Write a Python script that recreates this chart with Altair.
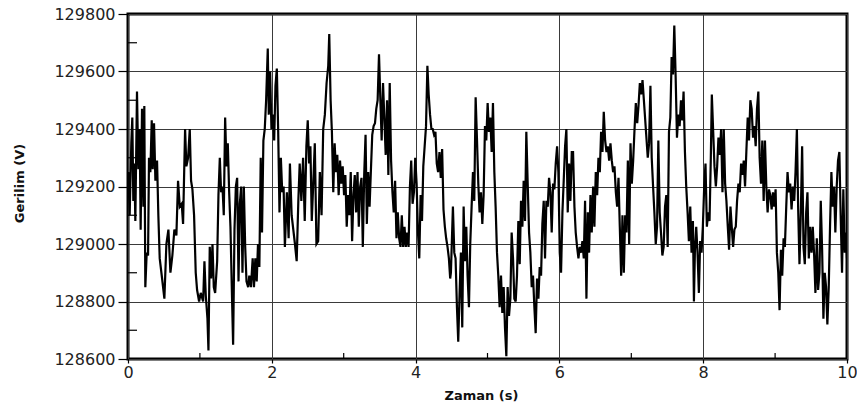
import altair as alt
import pandas as pd

# (time s, voltage V), segment by segment
seg_a = [(0.0,129200),(0.005,129250),(0.023,129100),(0.046,129350),(0.060,129440),(0.074,129150),(0.088,129280),(0.102,129080),
 (0.125,129530),(0.144,129260),(0.162,129400),(0.176,129050),(0.195,129470),(0.214,129130),(0.227,129480),(0.241,128850),
 (0.260,128970),(0.279,128960),(0.292,129300),(0.311,129250),(0.330,129430),(0.344,129260),(0.362,129420),(0.381,129220),
 (0.404,129290),(0.422,129100),(0.441,128950),(0.474,128880),(0.506,128810),(0.534,129000),(0.562,129050),(0.590,128900),
 (0.617,128960),(0.645,129050),(0.673,129030),(0.696,129220),(0.720,129130),(0.747,129140),(0.766,129070),(0.794,129400),
 (0.812,129270),(0.836,129300),(0.859,129400),(0.877,129220),(0.896,129190),(0.919,129100),(0.942,128900),(0.961,128840),
 (0.989,128800),(1.012,128830),(1.045,128800),(1.063,128940),(1.082,128820),(1.105,128740),(1.119,128630),(1.137,128990),
 (1.156,128880),(1.175,129000),(1.193,128850),(1.212,128830),(1.240,128940),(1.258,129170),(1.277,129300),(1.295,129180),
 (1.314,129200),(1.332,129100),(1.351,129440),(1.370,129270),(1.388,129350),(1.407,129180),(1.425,129060),(1.448,128800),
 (1.462,128650),(1.481,129050),(1.500,129200),(1.518,129230),(1.537,128870),(1.555,129140),(1.574,129200),(1.592,128900),
 (1.611,129200),(1.630,128990),(1.648,128870),(1.671,128850)]

seg_b = [(1.687,128890),(1.710,128850),(1.734,128950),(1.752,128850),(1.771,128950),(1.790,128870),(1.808,129000),(1.827,128920),
 (1.846,129300),(1.864,129040),(1.883,129360),(1.902,129400),(1.921,129500),(1.944,129680),(1.958,129450),(1.977,129600),
 (1.995,129400),(2.014,129450),(2.033,129360),(2.051,129550),(2.070,129610),(2.089,129390),(2.107,129110),(2.126,129300),
 (2.145,129180),(2.164,129200),(2.182,128990),(2.210,129180),(2.234,129020),(2.252,129280),(2.276,129100),(2.299,129050),
 (2.322,129000),(2.346,128940),(2.369,129150),(2.388,129280),(2.411,129150),(2.435,129300),(2.458,129080),(2.481,129340),
 (2.500,129430),(2.519,129280),(2.537,129340),(2.556,129080),(2.575,129200),(2.598,129350),(2.621,129000),(2.645,129010),
 (2.668,129250),(2.692,129100),(2.715,129400),(2.738,129450),(2.762,129560),(2.785,129620),(2.799,129730),(2.818,129500),
 (2.836,129390),(2.855,129180),(2.874,129350),(2.893,129250),(2.911,129310),(2.930,129170),(2.949,129290),(2.967,129210),
 (2.986,129270),(3.005,129170),(3.023,129240),(3.042,129060),(3.061,129170),(3.079,129100),(3.098,129250),(3.117,129010),
 (3.136,129170),(3.154,129240),(3.173,129110),(3.192,129250),(3.210,129060),(3.229,129200),(3.248,129230),(3.266,128990),
 (3.285,129240),(3.304,129380),(3.322,129070),(3.341,129250),(3.360,129130),(3.379,129260),(3.397,129380),(3.416,129410),
 (3.435,129420),(3.453,129470),(3.472,129500),(3.491,129660),(3.509,129510),(3.528,129360),(3.547,129560),(3.565,129440),
 (3.584,129310),(3.603,129500),(3.621,129240),(3.640,129560),(3.659,129290),(3.678,129180),(3.696,129110),(3.715,129220),
 (3.734,129020),(3.752,129110),(3.771,129020),(3.790,128990),(3.808,129100),(3.827,128990),(3.846,129060),(3.864,128990),
 (3.883,129040),(3.902,128990),(3.921,129200),(3.939,129290),(3.958,129140),(3.977,129180),(3.995,129300),(4.014,129210),
 (4.033,129040),(4.051,128950),(4.070,129170),(4.089,129080),(4.107,129270),(4.126,129340),(4.145,129410),(4.164,129620),
 (4.182,129520),(4.201,129450),(4.220,129400),(4.238,129400),(4.257,129380),(4.276,129390),(4.294,129280),(4.313,129250),
 (4.332,129320),(4.350,129230),(4.369,129330),(4.388,129120),(4.407,129060),(4.425,129020),(4.444,128990),(4.463,128950),
 (4.481,128880)]

seg_c = [(4.491,128900),(4.519,129130),(4.538,128970),(4.556,128950),(4.575,128780),(4.593,128660),(4.612,128830),(4.630,128970),
 (4.649,128710),(4.668,129130),(4.686,128940),(4.705,129060),(4.723,128890),(4.742,128780),(4.760,129000),(4.779,129130),
 (4.798,129250),(4.816,129150),(4.835,129510),(4.853,129370),(4.872,129210),(4.890,129110),(4.909,129180),(4.928,129070),
 (4.946,129170),(4.965,129410),(4.983,129360),(5.002,129490),(5.020,129390),(5.039,129440),(5.058,129320),(5.076,129490),
 (5.095,129250),(5.113,129130),(5.132,128970),(5.150,128890),(5.169,128780),(5.188,128890),(5.206,128760),(5.225,128850),
 (5.243,128710),(5.262,128610),(5.280,128850),(5.299,128750),(5.318,128810),(5.336,129040),(5.355,128950),(5.373,128810),
 (5.392,128800),(5.410,128890),(5.429,129080),(5.448,128930),(5.466,129150),(5.485,129060),(5.503,129220),(5.522,129080),
 (5.540,129390),(5.559,129210),(5.578,129040),(5.596,128970),(5.615,128850),(5.633,128890),(5.652,128780),(5.670,128690),
 (5.689,128880),(5.708,128810),(5.726,128920),(5.745,128890),(5.763,129070),(5.782,129150),(5.800,128950),(5.819,129150),
 (5.838,129130),(5.856,129230),(5.875,129180),(5.893,129040),(5.912,129210),(5.930,129190),(5.949,129280),(5.968,129340),
 (5.986,129250),(6.005,128970),(6.023,128900),(6.042,129110),(6.060,129220),(6.079,129340),(6.097,129400),(6.116,129110),
 (6.135,129280),(6.153,129150),(6.172,129320),(6.190,129320),(6.209,129130),(6.227,129040),(6.246,128990),(6.265,128950),
 (6.283,128990),(6.302,128970),(6.320,129010),(6.339,128950),(6.357,129150),(6.376,128810),(6.395,129110),(6.413,128970),
 (6.432,129170),(6.450,129040),(6.469,129200),(6.487,129060),(6.506,129250),(6.525,129170),(6.543,129300),(6.562,129250),
 (6.580,129390),(6.599,129320),(6.617,129460),(6.636,129360),(6.655,129320),(6.673,129340),(6.692,129290),(6.710,129350),
 (6.729,129290),(6.747,129250),(6.766,129270),(6.785,129180),(6.803,129130),(6.822,129230),(6.840,129060),(6.859,128890),
 (6.877,129100),(6.896,128900),(6.915,129100),(6.933,129040),(6.952,129290),(6.970,129000),(6.989,129350),(7.007,129210),
 (7.026,129290),(7.045,129400),(7.063,129490),(7.082,129420),(7.100,129480),(7.119,129560),(7.137,129520),(7.156,129570),
 (7.175,129500)]

seg_d = [(7.229,129300),(7.247,129350),(7.266,129550),(7.284,129300),(7.303,129200),(7.321,129110),(7.340,129000),(7.358,129060),
 (7.376,129360),(7.395,129110),(7.413,129040),(7.432,128960),(7.450,128990),(7.469,129130),(7.487,129170),(7.506,128990),
 (7.524,129390),(7.543,129440),(7.561,129650),(7.580,129590),(7.598,129760),(7.617,129580),(7.635,129370),(7.654,129450),
 (7.672,129410),(7.691,129500),(7.709,129430),(7.727,129530),(7.746,129320),(7.764,129200),(7.783,129110),(7.801,129010),
 (7.820,129130),(7.838,128970),(7.857,129080),(7.871,128800),(7.885,128980),(7.903,129060),(7.921,128970),(7.940,128830),
 (7.958,129010),(7.977,128970),(7.995,129060),(8.014,129200),(8.032,129280),(8.051,129060),(8.069,129110),(8.088,129080),
 (8.106,129300),(8.120,129520),(8.139,129390),(8.157,129270),(8.176,129200),(8.194,129270),(8.212,129370),(8.231,129310),
 (8.249,129400),(8.268,129180),(8.286,129400),(8.305,129210),(8.323,129150),(8.342,129060),(8.360,128980),(8.379,129130),
 (8.397,129060),(8.416,128990),(8.434,129050),(8.453,129060),(8.471,129150),(8.490,129210),(8.508,129180),(8.527,129280),
 (8.545,129240),(8.564,129290),(8.582,129200),(8.600,129320),(8.619,129440),(8.637,129360),(8.656,129500),(8.674,129470),
 (8.693,129370),(8.711,129410),(8.730,129340),(8.748,129470),(8.767,129530),(8.785,129300),(8.804,129210),(8.822,129360),
 (8.841,129150),(8.859,129360),(8.878,129200),(8.896,129110),(8.915,129190),(8.933,129170),(8.952,129120),(8.970,129180),
 (8.988,129130),(9.007,129190),(9.025,128970),(9.044,128900),(9.062,128770),(9.081,128980),(9.099,128890),(9.118,129020),
 (9.136,128990),(9.155,129130),(9.173,129250),(9.192,129180),(9.210,129210),(9.229,129120),(9.247,129200),(9.266,129150),
 (9.284,129250),(9.303,129400),(9.321,129120),(9.339,128930),(9.358,129110),(9.376,129340),(9.395,128990),(9.413,128930),
 (9.432,129110),(9.450,129180),(9.469,128950),(9.487,129060),(9.506,128970),(9.524,129060),(9.543,128960),(9.561,128830),
 (9.580,129020),(9.598,128840),(9.617,128900),(9.635,129150),(9.654,128980),(9.672,128740),(9.691,128900),(9.709,128850),
 (9.727,128720),(9.746,128850),(9.764,129060),(9.783,129250),(9.801,129130),(9.820,129200),(9.838,129040),(9.857,129200),
 (9.875,129290),(9.894,129320),(9.912,129100),(9.931,128900),(9.949,129190),(9.968,128970),(9.986,129040),(10.0,128950)]

x_major = [0, 2, 4, 6, 8, 10]
x_minor = [1, 3, 5, 7, 9]
y_major = [128600, 128800, 129000, 129200, 129400, 129600, 129800]
y_minor = [128700, 128900, 129100, 129300, 129500, 129700]

df = pd.DataFrame(seg_a + seg_b + seg_c + seg_d, columns=["t", "v"])

W, H = 719, 345
FONT = "DejaVu Sans"

xscale = alt.Scale(domain=[0, 10], nice=False, zero=False)
yscale = alt.Scale(domain=[128600, 129800], nice=False, zero=False)

line = alt.Chart(df).mark_line(color="black", strokeWidth=2.2, clip=True).encode(
    x=alt.X("t:Q", scale=xscale,
            axis=alt.Axis(values=x_major, title="Zaman  (s)", grid=True, format="d",
                          labelFlush=False, labelOverlap=False,
                          tickSize=4, labelPadding=1, titleX=353, titleY=36,
                          titleBaseline="middle", titleAlign="center")),
    y=alt.Y("v:Q", scale=yscale,
            axis=alt.Axis(values=y_major, title="Gerilim  (V)", grid=True, format="d",
                          labelFlush=False, labelOverlap=False,
                          tickSize=10, labelPadding=3, titleX=-109, titleY=169,
                          titleAngle=270, titleAlign="center", titleBaseline="middle")),
)

xminor = alt.Chart(pd.DataFrame({"t": x_minor})).mark_rule(color="black", strokeWidth=1.2).encode(
    x=alt.X("t:Q", scale=xscale), y=alt.value(H), y2=alt.value(H - 6))

yminor = alt.Chart(pd.DataFrame({"v": y_minor})).mark_rule(color="black", strokeWidth=1.2).encode(
    y=alt.Y("v:Q", scale=yscale), x=alt.value(0), x2=alt.value(9))

chart = alt.layer(line, xminor, yminor).properties(
    width=W, height=H,
    autosize=alt.AutoSizeParams(type="none"),
    padding={"left": 128, "top": 14, "right": 10, "bottom": 46},
    background="white",
).configure_view(
    stroke="black", strokeWidth=3
).configure_axis(
    domain=False,
    gridColor="#3a3a3a", gridWidth=1, gridOpacity=1,
    tickColor="black", tickWidth=1.2,
    labelFont=FONT, labelFontSize=16, labelColor="#222222",
    titleFont=FONT, titleFontSize=13, titleFontWeight="bold", titleColor="#111111",
)

chart.save("out.html", embed_options={"renderer": "svg", "actions": False})
